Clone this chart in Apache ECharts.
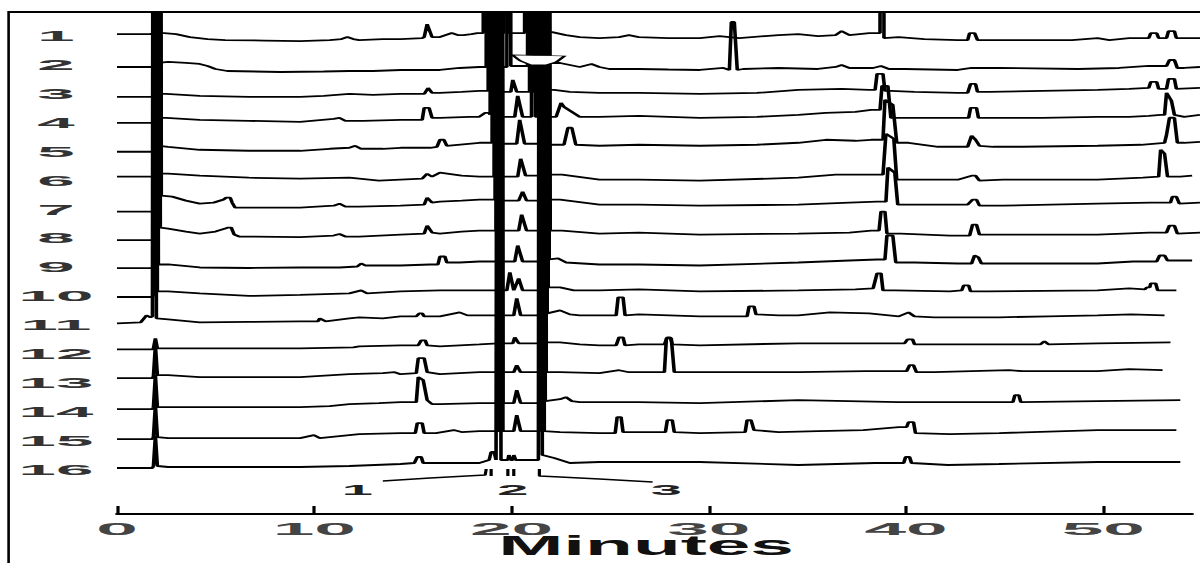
<!DOCTYPE html>
<html>
<head>
<meta charset="utf-8">
<script src="https://cdn.jsdelivr.net/npm/echarts@6/dist/echarts.min.js"></script>
<style>
  html, body { margin: 0; padding: 0; background: #fff; overflow: hidden; width: 1200px; height: 563px; }
  /* the plot is laid out at half width and stretched horizontally */
  #chart { position: absolute; left: 0; top: 0; width: 600px; height: 563px; transform: scaleX(2); transform-origin: 0 0; }
</style>
</head>
<body>
<div id="chart"></div>
<script>
// Run numbers, top trace first
const runLabels = ['1','2','3','4','5','6','7','8','9','10','11','12','13','14','15','16'];

// Chromatograms: [minutes, detector signal]; 2000 marks peaks far above full scale
const run1 = [[0,0],[1.7,0],[1.85,1],[1.95,2000],[2.05,1],[2.4,1],[3.0,0],[3.7,-3],[4.6,-5],[5.5,-6],[7.5,-6.5],[9.3,-7],[10.8,-6],[11.4,-5],[11.7,-3],[12.0,-5],[12.3,-6],[13.5,-5],[14.4,-5],[15.5,-4],[15.6,-3],[15.75,10],[16.0,-3],[16.4,-3],[17.0,1],[17.3,-1],[17.6,-1],[18.0,0],[18.3,1],[18.6,1],[18.7,2000],[18.8,1],[19.65,1],[19.75,2000],[19.85,1],[20.7,1],[20.8,2000],[20.9,1],[21.3,1],[21.4,2000],[21.5,2],[22.1,2],[22.8,-1],[23.5,-3],[24.5,-4],[25.5,-3],[26.0,-1],[26.5,-3],[28.0,-4],[29.6,-4],[30.6,-2],[31.6,-4],[32.9,-2],[33.6,-1],[34.6,0],[35.6,-2],[36.5,-1],[36.8,3],[37.2,-1],[37.7,0],[38.2,1],[38.75,1],[38.85,2000],[38.95,-4],[39.7,-3],[41.0,-5],[42.7,-6],[43.2,-6],[43.3,1],[43.55,1],[43.7,-6],[44.3,-6],[47.3,-6],[48.5,-6],[49.8,-4],[50.4,-6],[51.4,-4],[52.4,-4],[52.5,1],[52.8,1],[52.9,-4],[53.3,-4],[53.4,3],[53.7,3],[53.8,-4],[55,-4]];
const run2 = [[0,-4],[1.85,-4],[1.9,-2],[2.0,2000],[2.1,0],[2.6,1],[3.5,0],[4.2,-1],[4.6,-3],[5.0,-6],[5.6,-8],[8.3,-9],[10.5,-8.5],[11.8,-8],[13.0,-8],[14.4,-7],[15.6,-7],[16.4,-7],[17.4,-5],[18.4,-4],[18.75,-4],[18.85,2000],[18.95,-4],[19.8,-4],[19.9,2000],[20.0,-3],[20.85,-3],[20.95,2000],[21.05,-3],[21.45,-3],[21.55,2000],[21.65,0],[22.5,0],[23.0,-2],[23.5,-4],[24.1,-1],[24.5,-4],[25.0,-6],[26.5,-6],[28,-6.5],[29.6,-7],[30.8,-5],[31.1,-7],[31.2,41],[31.35,41],[31.5,-7],[31.8,-6],[33.6,-5],[35.6,-6],[36.5,-4],[36.8,-2],[37.2,-5],[38.4,-5],[38.8,-3],[39.2,-6],[40,-6],[42.7,-7],[43.4,-5],[44.8,-5],[48.8,-6],[50.9,-5],[52.4,-3],[53.3,-3],[53.45,3],[53.7,3],[53.85,-5],[54.2,-5],[55,-4]];
const run3 = [[0,-5],[1.8,-5],[1.85,-3],[1.95,2000],[2.05,-2],[2.5,-2],[4.2,-4],[6.7,-5],[9.3,-5],[10.5,-4],[11.8,-2],[13,-3],[14.4,-2],[15.6,-2],[15.8,4],[16.0,-1],[16.4,-1],[17.5,0],[18.4,1],[18.85,1],[18.95,2000],[19.05,0],[20.0,0],[20.1,12],[20.3,0],[20.95,0],[21.05,2000],[21.15,0],[21.5,0],[21.6,2000],[21.7,2],[22.2,2],[23.0,0],[24.5,-1],[26.5,-1],[29.6,-2],[32.5,-1],[34.6,2],[36.8,3],[38.2,2],[38.5,2],[38.6,18],[38.9,18],[39.0,1],[39.3,1],[40.5,0],[42.7,-1],[43.2,-1],[43.35,8],[43.6,8],[43.7,0],[44.3,0],[47,1],[49.8,2],[51.4,3],[52.4,4],[52.5,10],[52.8,10],[52.9,3],[53.3,3],[53.4,13],[53.7,13],[53.8,3],[55,4]];
const run4 = [[0,-2],[1.9,-2],[1.95,0],[2.05,2000],[2.15,3],[2.5,3],[4.2,1],[6.7,0],[9.3,-1],[11.0,2],[11.3,3],[11.6,0],[12.5,0],[14.4,1],[15.5,1],[15.6,13],[15.85,13],[16.0,3],[16.4,3],[17.9,4],[18.4,4],[18.7,8],[18.9,8],[18.95,6],[19.05,2000],[19.15,4],[20.2,4],[20.35,25],[20.6,4],[21.05,4],[21.15,2000],[21.25,4],[21.6,4],[21.7,2000],[21.8,4],[22.3,4],[22.55,18],[22.7,14],[23.5,4],[24.5,4],[26.5,5],[29.6,3],[32.5,4],[34.6,6],[36,8],[37.5,9],[38.3,11],[38.75,11],[38.85,35],[39.15,35],[39.3,3],[40,3],[42.7,3],[43.25,3],[43.35,13],[43.65,13],[43.75,3],[44.3,3],[47,3],[49.8,4],[51.4,4],[52.4,5],[53.0,6],[53.2,6],[53.3,28],[53.55,20],[53.7,6],[54.2,4],[55,6]];
const run5 = [[0,-2],[1.9,-2],[1.95,0],[2.05,2000],[2.15,4],[2.6,3],[4.2,0],[6.7,-1],[9.3,-1],[10.8,1],[11.8,2],[12.1,4],[12.4,1],[13.5,1],[14.4,2],[15.9,2],[16.25,3],[16.4,10],[16.6,10],[16.75,4],[17.3,5],[18.4,7],[19.05,7],[19.15,2000],[19.25,6],[20.3,6],[20.45,30],[20.7,6],[21.65,6],[21.75,2000],[21.85,5],[22.7,5],[22.9,22],[23.1,22],[23.3,5],[24.5,4],[26.5,5],[29.6,4],[32.5,5],[34.6,7],[36.0,10],[37.5,9],[38.3,10],[38.9,10],[39.0,50],[39.4,45],[39.6,7],[40.2,7],[41.7,3],[43.2,3],[43.4,14],[43.6,10],[43.8,4],[44.5,3],[46,3],[49.8,4],[52,5],[53.2,7],[53.3,15],[53.45,32],[53.7,32],[53.85,7],[54.2,7],[55,8]];
const run6 = [[0,2],[2.0,2],[2.0,4],[2.1,2000],[2.2,5],[2.6,5],[4.2,3],[6.7,1],[9.3,0],[11.8,1],[13.3,-2],[14.4,-1],[15.5,0],[15.75,5],[16.0,2],[16.4,6],[17.5,3],[18.4,2],[19.15,2],[19.25,2000],[19.35,2],[20.35,2],[20.5,20],[20.75,3],[21.7,3],[21.8,2000],[21.9,4],[22.6,4],[24.5,-1],[26.5,-1],[29.6,-2],[34.6,1],[36.5,4],[38.2,4],[38.9,4],[39.05,45],[39.45,40],[39.6,-1],[40.5,-1],[42.7,-1],[43.4,3],[43.6,3],[43.8,-2],[45,-1],[49.8,-1],[52.1,1],[52.9,2],[53.0,29],[53.2,25],[53.35,2],[54.0,2],[54.6,3]];
const run7 = [[0,-4],[2.0,-4],[2.05,2],[2.15,2000],[2.25,12],[2.8,11],[3.5,7],[4.2,4],[4.9,5],[5.4,8],[5.55,10],[5.75,10],[5.85,5],[6.0,0],[6.8,0],[9.3,0],[11.0,2],[11.3,4],[11.6,1],[12.3,1],[14.4,2],[15.6,3],[15.75,10],[16.0,5],[16.4,6],[17.5,7],[18.4,8],[19.2,8],[19.3,2000],[19.4,7],[20.4,7],[20.6,16],[20.8,7],[21.75,7],[21.85,2000],[21.95,8],[22.5,8],[24.5,3],[26.5,3],[29.6,2],[34.6,3],[37.2,5],[38.6,6],[39.05,6],[39.15,40],[39.5,35],[39.65,3],[40.5,3],[43.2,3],[43.45,8],[43.65,8],[43.8,2],[45,2],[49.8,4],[52.5,5],[53.5,5],[53.6,11],[53.8,11],[53.95,4],[55,5]];
const run8 = [[0,-3.5],[1.95,-3.5],[2.0,-2],[2.1,2000],[2.2,9],[2.6,8],[3.5,5],[4.2,3],[5.0,5],[5.5,8],[5.65,9],[5.8,9],[5.95,2],[6.2,0],[9.3,-0.5],[11.0,1],[11.3,2.5],[11.6,0],[12.3,0],[14.4,2],[15.6,3],[15.75,11],[16.0,4],[16.4,3],[17.5,5],[18.4,6],[19.25,6],[19.35,2000],[19.45,6],[20.4,6],[20.55,22],[20.8,6],[21.8,6],[21.9,2000],[22.0,6],[22.6,6],[24.5,3],[26.5,4],[29.6,2],[34.6,3],[37.2,4],[38.3,6],[38.7,6],[38.8,25],[39.0,25],[39.1,3],[39.8,3],[42.3,1],[43.3,1],[43.45,12],[43.65,12],[43.8,2],[44.5,2],[49.8,2],[52.4,4],[53.3,4],[53.45,11],[53.7,11],[53.85,3],[55,4]];
const run9 = [[0,-2.6],[1.85,-2.6],[1.9,0],[2.0,2000],[2.1,1],[2.6,1],[4.2,-2],[6.7,-2.5],[9.3,-2],[11.3,-2],[12.2,-1],[12.4,2],[12.6,0],[14.4,0],[15.9,1],[16.3,1],[16.4,9],[16.65,9],[16.75,3],[17.4,3],[18.4,4],[19.3,4],[19.4,2000],[19.5,4],[20.2,4],[20.35,20],[20.6,4],[21.75,4],[21.85,2000],[21.95,6],[22.4,7],[22.8,3],[24.5,1],[26.5,1],[29.6,0],[34.6,3],[37.2,5],[38.6,6],[39.0,6],[39.1,30],[39.4,30],[39.55,3],[40.5,3],[42.7,2],[43.4,2],[43.55,10],[43.75,8],[43.9,2],[45,2],[49.8,2],[51.6,4],[52.8,4],[52.95,10],[53.2,10],[53.35,5],[54.6,5]];
const run10 = [[0,-2.6],[1.8,-2.6],[1.85,0],[1.95,2000],[2.05,3],[2.6,3],[4.2,1],[6.7,-1.5],[9.3,-0.5],[11.8,1],[12.4,4],[12.7,1],[14.4,3],[16.4,4],[18.4,4],[19.35,4],[19.45,2000],[19.55,4],[19.8,4],[19.95,22],[20.15,4],[20.4,16],[20.6,4],[21.7,4],[21.8,2000],[21.9,7],[22.5,7],[23.2,4],[24.5,4],[26.5,5],[29.6,3],[34.6,4],[37.5,5],[38.4,6],[38.6,21],[38.8,21],[38.9,4],[39.5,4],[42.3,3],[42.9,4],[43.0,9],[43.25,9],[43.35,3],[44.2,3],[49.8,4],[51.4,6],[52.2,5],[52.3,7],[52.45,7],[52.5,11],[52.75,11],[52.85,4],[53.8,4]];
const run11 = [[0,0],[1.2,1],[1.5,8],[1.7,6],[1.8,7],[1.9,2000],[2.0,5],[2.6,4],[4.2,1],[6.7,1.5],[9.3,2],[10.2,2],[10.3,5],[10.6,2],[11.8,5],[12.3,6],[13.5,5],[14.4,7],[15.2,7],[15.35,10],[15.5,10],[15.6,7],[16.4,7],[17.4,11],[17.8,8],[18.4,8],[19.35,8],[19.45,2000],[19.55,8],[20.15,8],[20.3,25],[20.5,8],[21.65,8],[21.75,2000],[21.85,10],[22.5,13],[23.0,9],[23.5,8],[24.5,8],[25.35,8],[25.45,26],[25.7,26],[25.8,8],[26.5,9],[29.6,7],[32.0,7],[32.1,17],[32.35,17],[32.45,9],[33.6,8],[34.6,8],[36.2,11],[38.2,10],[39.7,7],[40.2,11],[40.5,7],[41.5,6],[44.8,6],[47.3,7],[49.8,8],[51.5,9],[53.2,8]];
const run12 = [[0,3],[1.8,3],[1.85,4],[1.95,14],[2.05,4],[2.6,4],[4.2,4],[9.3,4],[12.0,5],[12.3,6],[14.4,7],[15.3,7],[15.45,12],[15.65,12],[15.75,7],[16.4,6],[18.4,8],[19.35,9],[19.45,2000],[19.55,9],[20.1,9],[20.2,15],[20.4,9],[21.6,9],[21.7,2000],[21.8,10],[22.5,10],[23.5,8],[24.5,7],[25.35,7],[25.5,15],[25.7,15],[25.8,7],[26.5,8],[27.8,8],[27.95,15],[28.1,15],[28.2,8],[29.6,7],[34.6,9],[36.2,9],[38.5,9],[40.0,9],[40.15,13],[40.4,13],[40.5,8],[41.5,8],[44.8,8],[46.9,8],[47.1,11],[47.3,8],[49.8,9],[53.5,10]];
const run13 = [[0,3],[1.8,3],[1.85,5],[1.95,36],[2.05,6],[2.6,6],[4.2,4],[9.3,4],[11.8,7],[13.5,8],[14.1,9],[14.4,7],[15.2,8],[15.3,23],[15.6,23],[15.75,9],[16.4,7],[18.4,9],[19.35,9],[19.45,2000],[19.55,9],[20.15,9],[20.3,16],[20.5,9],[21.6,9],[21.7,2000],[21.8,9],[22.5,9],[24.5,8],[25.5,11],[26.0,9],[27.8,9],[27.9,43],[28.15,43],[28.3,9],[29.6,9],[34.6,9],[38.0,10],[40.1,10],[40.25,16],[40.45,16],[40.6,9],[41.5,9],[45.3,11],[46,10],[49.8,10],[51.4,12],[53.1,11]];
const run14 = [[0,1],[1.8,1],[1.85,3],[1.95,35],[2.05,3],[2.6,3],[4.2,3],[9.3,3],[10.8,4],[11.8,6],[13.3,7],[14.4,8],[15.2,8],[15.3,33],[15.55,30],[15.75,10],[16.0,6],[16.4,6],[18.4,7],[19.4,7],[19.5,2000],[19.6,7],[20.15,7],[20.3,20],[20.5,7],[21.55,7],[21.65,2000],[21.75,9],[22.5,11],[22.8,13],[23.1,9],[23.5,8],[24.5,8],[26.5,8],[29.6,7],[34.6,10],[39.7,8],[42.7,8],[45.5,8],[45.6,15],[45.8,15],[45.9,8],[49.8,9],[54.0,10]];
const run15 = [[0,0],[1.8,0],[1.85,2],[1.95,34],[2.05,2],[2.6,1],[4.2,1],[9.3,1],[10.0,4],[10.3,1],[12.3,5],[14.4,6],[15.15,6],[15.25,16],[15.5,16],[15.6,6],[16.2,6],[17.1,9],[17.5,7],[18.4,8],[19.4,8],[19.5,2000],[19.6,8],[20.15,8],[20.3,24],[20.5,8],[21.5,8],[21.6,2000],[21.7,8],[22.5,7],[24.5,6],[25.3,6],[25.4,22],[25.6,22],[25.7,7],[26.5,7],[27.85,7],[27.95,19],[28.2,19],[28.3,7],[29.6,6],[31.9,7],[32.0,19],[32.2,19],[32.35,9],[33.6,7],[35.6,8],[37.9,9],[39.7,12],[40.1,12],[40.2,17],[40.45,17],[40.55,6],[42.3,5],[44.8,6],[49.8,9],[53.8,9]];
const run16 = [[0,0],[1.8,0],[1.85,2],[1.95,32],[2.05,2],[2.6,1],[4.2,1],[9.3,1],[11.8,2],[14.4,4],[15.1,5],[15.25,11],[15.45,11],[15.55,5],[16.4,5],[18.4,5],[18.9,8],[19.0,16],[19.15,16],[19.25,8],[19.3,8],[19.4,2000],[19.5,8],[19.85,8],[19.9,13],[20.0,8],[20.1,8],[20.15,13],[20.25,8],[21.4,8],[21.5,2000],[21.6,13],[22.2,10],[23.0,5],[24.5,6],[29.6,6],[34.6,3],[38.5,5],[39.95,5],[40.05,11],[40.25,11],[40.35,5],[42.2,3],[44.8,4],[49.8,6],[54.0,6]];

// Time axis tick labels (minutes)
const timeTicks = [0, 10, 20, 30, 40, 50];

// Peak identification below the bottom trace
const peakLabels = ['1', '2', '3'];
const peakLabelMinutes = [12.2, 20.1, 27.9];
const peakLeaders = [
  [[13.5,-13],[15.9,-10],[18.7,-7],[18.75,-1]],
  [[19.0,-1],[19.0,-8]],
  [[19.85,-1],[19.85,-8]],
  [[20.15,-1],[20.15,-8]],
  [[21.45,-1],[21.45,-8],[22.5,-9],[24.5,-11],[27.2,-14]]
];

// Open arrowhead over run 2
const arrowMark = [21.4, 3];

const runs = [run1, run2, run3, run4, run5, run6, run7, run8, run9, run10, run11, run12, run13, run14, run15, run16];

// layout (chart units, before the horizontal stretch)
const ROW_STEP = 28.93;
const PLOT_LEFT = 58.5;
const PX_PER_MIN = 9.863;
const LABEL_MIN = -3.1;
const rowBase = i => (runs.length - 1 - i) * ROW_STEP;

const FONT = '"Liberation Sans", Arial, sans-serif';
const series = [];

runs.forEach((run, i) => {
  series.push({
    type: 'line', xAxisIndex: 0, yAxisIndex: 0,
    data: run.map(p => [p[0], p[1] + rowBase(i)]),
    symbol: 'none', showSymbol: false, silent: true, animation: false,
    lineStyle: { color: '#000', width: 1.8 }, z: 2
  });
});

peakLeaders.forEach(seg => {
  series.push({
    type: 'line', xAxisIndex: 0, yAxisIndex: 0, data: seg,
    symbol: 'none', showSymbol: false, silent: true, animation: false,
    lineStyle: { color: '#000', width: 1.6 }, z: 2
  });
});

// arrowhead marker
series.push({
  type: 'scatter', xAxisIndex: 0, yAxisIndex: 0,
  data: [[arrowMark[0], arrowMark[1] + rowBase(1)]],
  symbol: 'path://M0,0 L52,1 L44,7 L34,10 L18,10 L8,6 Z',
  symbolSize: [26, 10], silent: true, animation: false,
  itemStyle: { color: '#fff', opacity: 1, borderColor: '#000', borderWidth: 1.2 }, z: 10
});

// run numbers at the left of each trace
series.push({
  type: 'custom', xAxisIndex: 0, yAxisIndex: 0, silent: true, animation: false, z: 5,
  data: runLabels.map((lab, i) => [LABEL_MIN, rowBase(i) - 2]),
  renderItem: (params, api) => {
    const p = api.coord([api.value(0), api.value(1)]);
    return {
      type: 'text', x: p[0], y: p[1], scaleX: 2.4,
      style: { text: runLabels[params.dataIndex], font: 'bold 14px ' + FONT, fill: '#333', align: 'center', verticalAlign: 'middle' }
    };
  }
});

// peak numbers
series.push({
  type: 'custom', xAxisIndex: 0, yAxisIndex: 0, silent: true, animation: false, z: 5,
  data: peakLabelMinutes.map(m => [m, -22]),
  renderItem: (params, api) => {
    const p = api.coord([api.value(0), api.value(1)]);
    return {
      type: 'text', x: p[0], y: p[1], scaleX: 2,
      style: { text: peakLabels[params.dataIndex], font: 'bold 14px ' + FONT, fill: '#222', align: 'center', verticalAlign: 'middle' }
    };
  }
});

// time tick labels
series.push({
  type: 'custom', xAxisIndex: 1, yAxisIndex: 1, silent: true, animation: false, z: 5,
  data: timeTicks.map(v => [v, 0]),
  renderItem: (params, api) => {
    const p = api.coord([api.value(0), 0]);
    return {
      type: 'text', x: p[0], y: p[1] + 15, scaleX: 2.2,
      style: { text: String(timeTicks[params.dataIndex]), font: 'bold 17px ' + FONT, fill: '#444', align: 'center', verticalAlign: 'middle' }
    };
  }
});

const chart = echarts.init(document.getElementById('chart'), null, { renderer: 'svg', width: 600, height: 563 });

chart.setOption({
  animation: false,
  backgroundColor: '#fff',
  grid: [
    { left: PLOT_LEFT, top: 12, width: 55 * PX_PER_MIN, height: 478 },
    { left: PLOT_LEFT, top: 480, width: 54.5 * PX_PER_MIN, height: 34 }
  ],
  xAxis: [
    { type: 'value', gridIndex: 0, min: 0, max: 55, show: false },
    {
      type: 'value', gridIndex: 1, min: 0, max: 54.5, interval: 10, position: 'bottom',
      axisLine: { show: true, lineStyle: { color: '#000', width: 2 } },
      axisTick: { show: true, inside: true, length: 8, customValues: timeTicks, lineStyle: { color: '#000', width: 1.6 } },
      axisLabel: { show: false }, splitLine: { show: false }
    }
  ],
  yAxis: [
    { type: 'value', gridIndex: 0, min: -22, max: 456, show: false },
    { type: 'value', gridIndex: 1, min: 0, max: 1, show: false }
  ],
  graphic: [
    { type: 'line', shape: { x1: 4, y1: 12, x2: 600, y2: 12 }, style: { stroke: '#000', lineWidth: 2 }, silent: true },
    { type: 'line', shape: { x1: 4.3, y1: 11, x2: 4.3, y2: 563 }, style: { stroke: '#000', lineWidth: 1.3 }, silent: true },
    {
      type: 'text', x: 323, y: 546, scaleX: 1.45, silent: true,
      style: { text: 'Minutes', font: 'bold 27px ' + FONT, fill: '#111', align: 'center', verticalAlign: 'middle' }
    }
  ],
  series: series
});
</script>
</body>
</html>
